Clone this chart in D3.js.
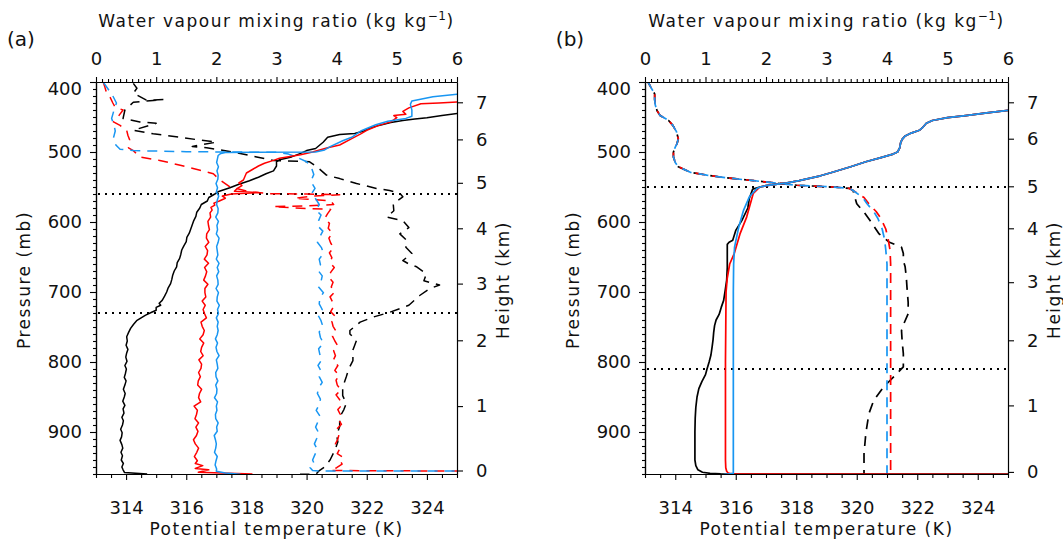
<!DOCTYPE html>
<html><head><meta charset="utf-8">
<script src="https://cdn.jsdelivr.net/npm/d3@7/dist/d3.min.js"></script>
<style>
body{margin:0;background:#fff;}
svg{display:block;font-family:"DejaVu Sans",sans-serif;}
</style></head><body>
<svg id="chart" width="1063" height="542"></svg>
<script>
// ---------------- DATA ----------------
const pressureTicks = [400,500,600,700,800,900];
const thetaTicks = [314,316,318,320,322,324];
const mixingTicks = [0,1,2,3,4,5,6];
const heightTicks = [0,1,2,3,4,5,6,7];
const heightPressureA = [955,863,769,688,609,544,482,429];
const heightPressureB = [957,862,769,686,609,549,481,429];
const inversionA = [560,730];
const inversionB = [550,810];

// panel (a): [potential temperature K, pressure mb]
const aThetaBlack = [[314.7,960],[313.95,958],[313.9,954],[313.86,950],[313.91,945],[313.84,940],[313.88,934],[313.83,929],[313.89,923],[313.86,918],[313.8,912],[313.85,907],[313.87,901],[313.82,896],[313.88,890],[313.91,884],[313.86,879],[313.93,873],[313.9,867],[313.96,862],[313.89,856],[313.94,850],[313.97,845],[313.91,839],[313.96,833],[314.0,827],[313.94,822],[313.98,816],[314.01,810],[313.96,805],[314.03,799],[313.99,793],[314.02,787],[314.06,782],[314.0,776],[314.04,770],[314.02,764],[314.08,758],[314.15,752],[314.25,746],[314.35,741],[314.5,737],[314.65,733],[314.85,729],[315.0,726],[315.0,722],[315.15,719],[315.1,716],[315.2,712],[315.28,706],[315.35,700],[315.4,694],[315.48,688],[315.52,682],[315.55,676],[315.6,670],[315.68,664],[315.7,658],[315.78,652],[315.82,646],[315.85,640],[315.92,634],[316.0,628],[316.02,622],[316.1,616],[316.15,610],[316.2,604],[316.25,598],[316.32,592],[316.35,586],[316.45,580],[316.5,575],[316.7,570],[316.75,565],[316.95,560],[317.1,556],[317.45,551],[317.75,546],[318.1,541],[318.4,536],[318.65,531],[318.9,527],[319.0,520],[319.0,514],[319.1,511],[319.5,507],[319.8,502],[320.0,498],[320.3,495],[320.55,486],[320.7,479],[321.1,475],[321.6,473.5],[321.9,470],[322.1,466],[322.4,462],[322.8,458],[323.2,455],[323.6,453],[324.0,451],[324.5,448],[325.2,444]];
const aThetaRed = [[318.2,960],[316.4,957.5],[316.75,954],[316.3,952],[316.55,948],[316.3,945],[316.37,941],[316.27,935],[316.35,929],[316.41,923],[316.3,917],[316.24,911],[316.34,905],[316.39,899],[316.32,893],[316.41,887],[316.29,881],[316.34,875],[316.37,869],[316.26,863],[316.48,857],[316.41,851],[316.44,845],[316.51,839],[316.38,833],[316.4,827],[316.47,821],[316.41,815],[316.49,809],[316.51,803],[316.42,797],[316.56,791],[316.48,785],[316.51,779],[316.58,773],[316.45,767],[316.56,761],[316.6,755],[316.53,749],[316.49,743],[316.67,737],[316.61,731],[316.56,725],[316.63,719],[316.53,713],[316.65,707],[316.62,701],[316.62,695],[316.72,689],[316.58,683],[316.64,677],[316.68,671],[316.61,665],[316.74,659],[316.6,653],[316.69,647],[316.71,641],[316.63,635],[316.75,629],[316.67,623],[316.68,617],[316.77,611],[316.74,605],[316.72,599],[316.81,593],[316.79,587],[316.86,583],[316.82,579],[316.95,576],[316.92,573],[317.1,570],[317.3,566],[317.2,563],[317.5,560],[318.4,558],[317.6,556],[317.7,552],[317.85,548],[317.75,544],[317.9,540],[317.95,535],[318.0,530],[318.2,525],[318.4,520],[318.6,516],[318.9,512],[319.1,509],[319.5,506],[319.8,504],[320.2,500],[320.7,494],[321.1,490],[321.5,481],[321.8,474],[322.0,469],[322.4,462],[322.8,457],[323.0,451],[322.9,448],[323.3,446],[323.2,442],[323.4,437],[323.8,431],[324.4,430],[325.1,428.5]];
const aThetaBlue = [[317.8,960.5],[317.3,958.5],[317.0,956],[317.01,953],[316.96,947],[316.99,941],[317.03,935],[316.94,929],[316.98,923],[317.0,917],[316.97,911],[316.93,905],[317.03,899],[317.01,893],[317.06,887],[316.98,881],[316.97,875],[317.02,869],[317.0,863],[317.04,857],[316.94,851],[317.01,845],[317.02,839],[316.98,833],[317.05,827],[316.99,821],[316.98,815],[317.05,809],[317.03,803],[317.0,797],[317.09,791],[317.02,785],[316.99,779],[317.04,773],[316.97,767],[317.03,761],[317.06,755],[317.03,749],[317.06,743],[317.0,737],[317.07,731],[317.04,725],[317.1,719],[317.02,713],[317.03,707],[317.07,701],[316.99,695],[317.06,689],[317.05,683],[317.01,677],[317.08,671],[317.03,665],[317.09,659],[317.0,653],[317.05,647],[317.03,641],[317.01,635],[317.06,629],[317.09,623],[317.0,617],[317.04,611],[317.02,605],[317.07,599],[316.98,593],[317.05,587],[317.06,581],[317.01,575],[317.03,569],[317.08,563],[317.0,557],[317.04,551],[316.99,545],[317.05,539],[317.06,533],[317.02,527],[317.07,521],[317.01,515],[317.04,509],[317.06,505],[317.15,502],[317.3,500.6],[320.3,500],[320.6,497],[320.8,492],[321.2,484],[321.5,479],[321.8,470],[322.3,461],[322.7,456],[323.3,452],[323.5,449],[323.5,440],[323.45,432],[323.5,427],[324.2,421],[325.2,416.5]];
// panel (a): [water vapour mixing ratio, pressure mb]
const aMixBlack = [[0.62,402],[0.68,409],[0.62,416],[0.84,426],[1.12,425],[0.62,429],[0.48,440],[0.45,452],[0.73,457],[1.0,459],[0.62,469],[0.95,474],[1.4,479],[1.73,483],[2.0,486],[1.6,492],[1.84,494],[2.28,500],[2.67,507],[2.95,512],[3.55,514],[3.67,521],[3.83,533],[4.05,538],[4.33,545],[4.66,552],[4.88,555],[5.05,559],[5.1,564],[4.94,574],[4.95,584],[4.83,593],[5.1,598],[5.2,608],[5.05,617],[5.16,626],[5.15,636],[5.25,645],[5.1,655],[5.2,660],[5.33,664],[5.49,674],[5.45,684],[5.71,690],[5.55,695],[5.38,705],[5.2,719],[4.88,729],[4.6,736],[4.39,743],[4.22,755],[4.22,760],[4.33,769],[4.3,776],[4.27,783],[4.27,798],[4.2,810],[4.16,821],[4.1,836],[4.1,848],[4.16,859],[4.12,868],[4.05,879],[4.05,892],[4.0,905],[4.02,914],[3.97,926],[3.89,940],[3.8,950],[3.7,956],[3.66,960],[3.39,960.5]];
const aMixRed = [[0.12,400],[0.15,408],[0.18,417],[0.23,421],[0.28,430],[0.32,436],[0.45,440],[0.38,448],[0.29,457],[0.4,462],[0.51,469],[0.53,476],[0.56,483],[0.54,494],[0.62,498],[0.73,507],[1.06,512],[1.4,519],[1.73,526],[1.95,531],[2.06,540],[2.23,550],[2.56,557],[2.9,559.5],[3.5,560],[4.05,561],[3.6,563],[3.3,566],[3.9,570],[3.95,575],[3.5,577],[2.95,578],[3.3,580],[3.9,582],[3.85,588],[3.8,595],[3.88,602],[3.86,609],[3.93,616],[3.87,623],[3.9,630],[3.95,637],[3.88,644],[3.92,651],[3.89,658],[3.96,665],[3.9,672],[3.87,679],[3.94,686],[3.91,693],[3.97,700],[3.89,707],[3.93,714],[3.95,721],[3.9,728],[3.98,735],[3.92,742],[3.94,749],[3.99,756],[3.93,763],[3.97,770],[4.02,777],[3.95,784],[3.98,791],[3.94,798],[4.02,805],[3.97,812],[4.04,819],[3.99,826],[4.01,833],[4.07,840],[3.99,847],[4.05,854],[4.09,861],[4.02,868],[4.06,875],[4.03,882],[4.08,889],[4.0,896],[4.04,903],[4.02,910],[3.98,917],[4.05,924],[4.01,931],[4.1,936],[4.06,941],[4.09,946],[4.0,951],[3.9,955],[6.5,956]];
const aMixBlue = [[0.12,400],[0.2,410],[0.28,420],[0.34,430],[0.3,440],[0.26,452],[0.3,462],[0.32,470],[0.29,480],[0.33,490],[0.4,496],[0.62,498],[1.5,499.5],[3.0,500.5],[3.2,503],[3.35,508],[3.5,514],[3.58,522],[3.62,532],[3.57,542],[3.64,552],[3.58,560],[3.66,568],[3.71,575],[3.66,583],[3.74,590],[3.7,598],[3.69,606],[3.77,613],[3.72,621],[3.68,629],[3.75,637],[3.78,645],[3.71,653],[3.73,661],[3.69,669],[3.76,677],[3.74,685],[3.7,693],[3.78,701],[3.72,709],[3.71,717],[3.76,725],[3.69,733],[3.74,741],[3.77,749],[3.71,757],[3.73,765],[3.78,773],[3.7,781],[3.72,789],[3.75,797],[3.69,805],[3.74,813],[3.71,821],[3.76,829],[3.7,837],[3.68,845],[3.73,853],[3.71,861],[3.66,869],[3.72,877],[3.69,885],[3.65,893],[3.7,901],[3.67,909],[3.63,917],[3.68,925],[3.64,932],[3.6,940],[3.63,946],[3.56,951],[3.6,955],[3.7,955.7],[6.5,955.7]];

// panel (b): potential temperature
const bThetaUpper = [[316.8,550],[317.0,548],[317.7,544],[318.1,541],[318.8,534],[319.2,529],[319.8,521],[320.3,514],[320.8,508],[321.2,503],[321.35,500],[321.42,494],[321.45,487],[321.5,482],[321.6,477],[321.8,473],[322.07,469],[322.2,464],[322.3,459],[322.5,455],[323.0,451],[323.6,448],[324.3,444],[325.1,440],[326,436]];
const bThetaBlackLower = [[326,960.2],[316.0,960],[315.5,959.8],[315.15,959],[314.9,957.5],[314.75,954],[314.68,948],[314.65,940],[314.65,920],[314.65,900],[314.66,880],[314.68,865],[314.72,850],[314.78,838],[314.88,828],[315.0,818],[315.05,810],[315.12,800],[315.18,790],[315.22,778],[315.25,768],[315.27,758],[315.3,748],[315.35,740],[315.45,732],[315.52,722],[315.6,712],[315.65,698],[315.7,683],[315.72,665],[315.72,650],[315.72,632],[315.78,629],[315.9,626],[316.0,612],[316.2,598],[316.4,580],[316.45,566],[316.56,553]];
const bThetaRedLower = [[326,960.4],[316.0,960.2],[315.85,959.6],[315.75,958.5],[315.7,956],[315.67,951],[315.66,940],[315.66,900],[315.66,850],[315.66,800],[315.67,750],[315.68,700],[315.72,680],[315.8,660],[315.95,645],[316.14,617],[316.36,593],[316.58,559]];
const bThetaBlueLower = [[315.6,961],[315.75,960],[315.92,959.2],[315.92,950],[315.92,900],[315.92,800],[315.92,700],[315.93,660],[315.96,636],[316.1,607],[316.26,583],[316.45,564],[316.7,552]];
// panel (b): mixing ratio
const bMixUpper = [[0.05,400],[0.1,408],[0.16,417],[0.16,425],[0.17,433],[0.2,441],[0.25,448],[0.39,455],[0.46,462],[0.52,471],[0.55,481],[0.53,488],[0.5,493],[0.47,500],[0.47,507],[0.5,515],[0.55,521],[0.75,529],[1.02,533],[1.35,537],[1.69,540],[2.13,544],[2.51,547.5],[3.1,550],[3.38,552],[3.44,555]];
const bMixBlackLower = [[3.47,565],[3.5,574],[3.62,586],[3.72,598],[3.87,617],[4.04,629],[4.24,636],[4.27,645],[4.27,655],[4.3,664],[4.32,680],[4.33,693],[4.35,715],[4.35,731],[4.28,745],[4.24,755],[4.25,770],[4.27,788],[4.27,807],[4.16,817],[3.94,836],[3.78,855],[3.7,874],[3.65,902],[3.62,931],[3.62,960]];
const bMixRedLower = [[3.62,565],[3.7,574],[3.82,585],[3.9,595],[3.98,610],[4.02,625],[4.05,640],[4.06,660],[4.06,700],[4.06,800],[4.06,900],[4.06,960]];
const bMixBlueLower = [[3.6,565],[3.67,574],[3.78,585],[3.85,595],[3.92,610],[3.96,625],[3.98,640],[4.0,660],[4.0,700],[4.0,800],[4.0,900],[4.0,960]];

// ---------------- DRAW ----------------
const RED = "#ff0000", BLUE = "#1896f2", BLACK = "#000000";
const svg = d3.select("#chart");
const TOP = 82, BOTTOM = 474;

const panels = [
  {id:"a", x0:96, x1:457, tag:"(a)", tagX:21, heightP:heightPressureA, dotted:inversionA, lw:1.5,
   dashed:[{d:aMixBlack,c:BLACK},{d:aMixRed,c:RED},{d:aMixBlue,c:BLUE}],
   solid:[{d:aThetaBlack,c:BLACK},{d:aThetaRed,c:RED},{d:aThetaBlue,c:BLUE}]},
  {id:"b", x0:645, x1:1008, tag:"(b)", tagX:570, heightP:heightPressureB, dotted:inversionB, lw:1.7,
   dashed:[{d:bMixUpper.concat(bMixBlackLower),c:BLACK,o:5},{d:bMixUpper.concat(bMixRedLower),c:RED,o:3},{d:bMixUpper.concat(bMixBlueLower),c:BLUE,o:0}],
   solid:[{d:bThetaBlackLower.concat(bThetaUpper),c:BLACK},{d:bThetaRedLower.concat(bThetaUpper),c:RED},{d:bThetaBlueLower.concat(bThetaUpper),c:BLUE}]}
];

function styleAxis(g){
  g.attr("font-family", null).attr("font-size", null);
  g.selectAll(".domain").attr("stroke","#000").attr("stroke-width",1.2);
  g.selectAll(".tick line").attr("stroke","#000").attr("stroke-width",1.1);
  g.selectAll(".tick text").attr("fill","#111").attr("font-size",18);
}

panels.forEach(cfg => {
  const x = d3.scaleLinear().domain([313,325]).range([cfg.x0,cfg.x1]);
  const xq = d3.scaleLinear().domain([0,6]).range([cfg.x0,cfg.x1]);
  const y = d3.scaleLinear().domain([400,960]).range([TOP,BOTTOM]);
  const g = svg.append("g");
  const clipId = "clip-"+cfg.id;
  svg.append("clipPath").attr("id",clipId).append("rect")
    .attr("x",cfg.x0).attr("y",TOP).attr("width",cfg.x1-cfg.x0).attr("height",BOTTOM-TOP);
  const plot = g.append("g").attr("clip-path",`url(#${clipId})`);

  cfg.dotted.forEach(p => plot.append("line")
    .attr("x1",cfg.x0+2).attr("x2",cfg.x1).attr("y1",y(p)).attr("y2",y(p))
    .attr("stroke","#000").attr("stroke-width",2).attr("stroke-dasharray","2,5"));

  const lineT = d3.line().x(d=>x(d[0])).y(d=>y(d[1]));
  const lineQ = d3.line().x(d=>xq(d[0])).y(d=>y(d[1]));
  cfg.dashed.forEach(s => plot.append("path").attr("d",lineQ(s.d))
    .attr("fill","none").attr("stroke",s.c).attr("stroke-width",cfg.lw)
    .attr("stroke-dasharray","10,7").attr("stroke-dashoffset",s.o||0)
    .attr("stroke-linejoin","round"));
  cfg.solid.forEach(s => plot.append("path").attr("d",lineT(s.d))
    .attr("fill","none").attr("stroke",s.c).attr("stroke-width",cfg.lw)
    .attr("stroke-linejoin","round"));

  // left pressure axis
  const pMinor = d3.range(400,961,10).filter(v=>!pressureTicks.includes(v));
  const gLm = g.append("g").attr("transform",`translate(${cfg.x0},0)`)
    .call(d3.axisLeft(y).tickValues(pMinor).tickSize(3).tickSizeOuter(0).tickFormat(""));
  styleAxis(gLm);
  const gL = g.append("g").attr("transform",`translate(${cfg.x0},0)`)
    .call(d3.axisLeft(y).tickValues(pressureTicks).tickSize(6).tickSizeOuter(0).tickPadding(8));
  styleAxis(gL);
  gL.selectAll(".tick text").filter(d=>d===400).attr("dy","0.71em");

  // bottom theta axis
  const tMinor = d3.range(313,325.01,0.5).filter(v=>!thetaTicks.includes(v));
  const gBm = g.append("g").attr("transform",`translate(0,${BOTTOM})`)
    .call(d3.axisBottom(x).tickValues(tMinor).tickSize(4).tickSizeOuter(0).tickFormat(""));
  styleAxis(gBm);
  const gB = g.append("g").attr("transform",`translate(0,${BOTTOM})`)
    .call(d3.axisBottom(x).tickValues(thetaTicks).tickSize(6).tickSizeOuter(0).tickPadding(21)
      .tickFormat(d3.format("d")));
  styleAxis(gB);

  // top mixing ratio axis
  const qMinor = d3.range(0,6.001,0.1).map(v=>+v.toFixed(1)).filter(v=>!mixingTicks.includes(v));
  const gTm = g.append("g").attr("transform",`translate(0,${TOP})`)
    .call(d3.axisTop(xq).tickValues(qMinor).tickSize(3).tickSizeOuter(0).tickFormat(""));
  styleAxis(gTm);
  const gT = g.append("g").attr("transform",`translate(0,${TOP})`)
    .call(d3.axisTop(xq).tickValues(mixingTicks).tickSize(5).tickSizeOuter(0).tickPadding(12)
      .tickFormat(d3.format("d")));
  styleAxis(gT);

  // right height axis
  const gR = g.append("g").attr("transform",`translate(${cfg.x1},0)`)
    .call(d3.axisRight(y).tickValues(cfg.heightP).tickSize(6).tickSizeOuter(0).tickPadding(13)
      .tickFormat((p,i)=>heightTicks[i]));
  styleAxis(gR);

  const cx = (cfg.x0+cfg.x1)/2;
  const titleStyle = t => t.attr("font-size",17).attr("letter-spacing","1.5px").attr("fill","#111");
  const tt = g.append("text").attr("x",cx).attr("y",27).attr("text-anchor","middle").call(titleStyle);
  tt.append("tspan").text("Water vapour mixing ratio (kg kg");
  tt.append("tspan").attr("dy",-7).attr("font-size",12).attr("letter-spacing","0.5px").text("−1");
  tt.append("tspan").attr("dy",7).text(")");
  g.append("text").attr("x",cx).attr("y",535).attr("text-anchor","middle").call(titleStyle)
    .text("Potential temperature (K)");
  g.append("text").attr("transform",`translate(${cfg.x0-66},280) rotate(-90)`)
    .attr("text-anchor","middle").call(titleStyle).text("Pressure (mb)");
  g.append("text").attr("transform",`translate(${cfg.x1+52},280) rotate(-90)`)
    .attr("text-anchor","middle").call(titleStyle).text("Height (km)");
  g.append("text").attr("x",cfg.tagX).attr("y",46).attr("text-anchor","middle")
    .attr("font-size",20).attr("fill","#111").text(cfg.tag);
});
</script>
</body></html>
